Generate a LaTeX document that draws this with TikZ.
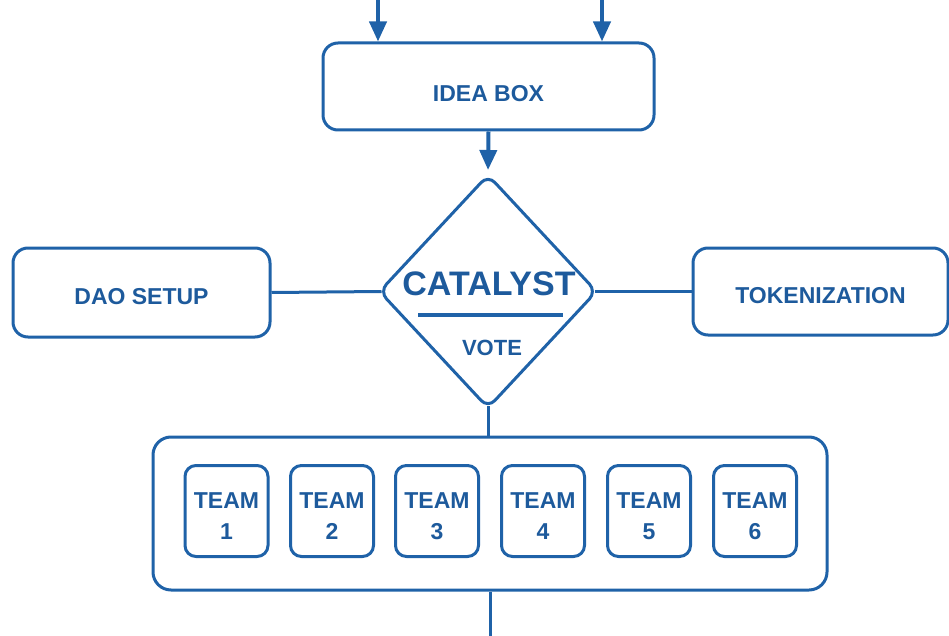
\documentclass[tikz,border=0pt]{standalone}
\usepackage{fontspec}
\setmainfont{Liberation Sans}
\usetikzlibrary{shapes.geometric,arrows.meta}
\definecolor{lineblue}{HTML}{1F62A8}
\definecolor{textblue}{HTML}{1D5A9C}
\tikzset{
  box/.style={draw=lineblue, line width=3pt, rounded corners=15pt, fill=white,
    font=\bfseries\fontsize{23}{25}\selectfont, text=textblue, inner sep=0pt,
    text depth=0pt},
  teambox/.style={draw=lineblue, line width=3pt, rounded corners=11pt,
    minimum width=83pt, minimum height=91pt, inner sep=0pt},
  teamtxt/.style={inner sep=0pt, font=\bfseries\fontsize{23}{31}\selectfont,
    text=textblue, align=center},
  conn/.style={draw=lineblue, line width=3pt},
  arr/.style={draw=lineblue, line width=4pt, -{Triangle[length=20pt,width=17pt]}},
}
\begin{document}
\begin{tikzpicture}[x=1pt,y=-1pt]
\useasboundingbox (0,0) rectangle (949,636);
% nodes
\node[box, minimum width=331pt, minimum height=87pt, text height=29.8pt] (idea) at (488.5,86.5) {IDEA BOX};
\node[diamond, draw=lineblue, line width=3pt, rounded corners=10pt,
      minimum width=218pt, minimum height=234pt, inner sep=0pt] (vote) at (488,291.5) {};
\node[box, minimum width=257pt, minimum height=89pt, text height=23pt] (dao) at (141.5,292.5) {DAO SETUP};
\node[box, minimum width=255pt, minimum height=87pt, text height=24.8pt] (token) at (820.5,291.5) {TOKENIZATION};
\node[font=\bfseries\fontsize{34}{36}\selectfont, text=textblue, inner sep=0pt] (cat) at (489,284) {CATALYST};
\node[fill=lineblue, minimum width=145pt, minimum height=4.5pt, inner sep=0pt] (bar) at (490,315) {};
\node[font=\bfseries\fontsize{22}{24}\selectfont, text=textblue, inner sep=0pt] (votetxt) at (492,348) {VOTE};
\node[draw=lineblue, line width=3pt, rounded corners=18pt,
      minimum width=674pt, minimum height=153pt, inner sep=0pt] (teams) at (490,513.5) {};
\foreach \i/\x in {1/226.5,2/332,3/437,4/543,5/649,6/755}{
  \node[teambox] (t\i) at (\x,511) {};
  \node[teamtxt] (t\i txt) at (\x,516) {TEAM\\\i};
}
% coordinates
\coordinate (in1) at (378,0);
\coordinate (in2) at (602,0);
\coordinate (out) at (490,636);
% connectors
\draw[arr] (in1) -- (in1 |- idea.north);
\draw[arr] (in2) -- (in2 |- idea.north);
\draw[arr, shorten >=3pt] (idea.south) -- (vote.north);
\draw[conn] (dao.east) -- ([xshift=4pt]vote.west);
\draw[conn] ([xshift=-4pt]vote.east) -- (token.west);
\draw[conn] ([yshift=4pt]vote.south) -- (vote.south |- teams.north);
\draw[conn] (out |- teams.south) -- (out);
\end{tikzpicture}
\end{document}
